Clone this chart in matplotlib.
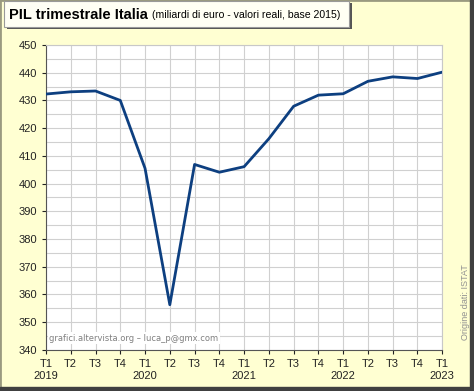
import matplotlib
matplotlib.use("Agg")
import matplotlib.pyplot as plt
from matplotlib.patches import Rectangle

plt.rcParams['font.family'] = ['Liberation Sans', 'DejaVu Sans']

quarters = ["T1", "T2", "T3", "T4"] * 4 + ["T1"]
years = ["2019", "", "", "", "2020", "", "", "", "2021", "", "", "", "2022", "", "", "", "2023"]
pil = [432.3, 433.1, 433.4, 430.0, 405.5, 356.3, 406.9, 404.1, 406.1,
       416.2, 427.9, 431.9, 432.4, 436.9, 438.5, 437.9, 440.2]

bg = "#ffffd2"
fig = plt.figure(figsize=(4.74, 3.91), dpi=100, facecolor=bg)

# frame with shadow on right / bottom
fig.patches.append(Rectangle((0, 0), 1, 1, transform=fig.transFigure,
                             fill=False, edgecolor="#9a9a80", linewidth=2))
fig.patches.append(Rectangle((0.992, 0), 0.008, 1, transform=fig.transFigure,
                             color="#404040", zorder=5))
fig.patches.append(Rectangle((0, 0), 1, 0.01, transform=fig.transFigure,
                             color="#404040", zorder=5))

ax = fig.add_axes([0.097, 0.105, 0.836, 0.78])
ax.set_facecolor("white")
x = range(len(pil))
ax.plot(x, pil, color="#0d3f80", linewidth=2.0, zorder=3)

ax.set_xlim(0, len(pil) - 1)
ax.set_ylim(340, 450)
ax.set_yticks(range(340, 451, 10))
ax.set_yticks(range(345, 450, 10), minor=True)
ax.set_xticks(list(x))
ax.set_xticklabels([q + "\n" + y for q, y in zip(quarters, years)])
ax.tick_params(axis="both", labelsize=8, colors="#222222", length=3)
ax.tick_params(axis="y", which="minor", length=0)
ax.grid(True, which="both", color="#d0d0d0", linewidth=0.8)
for s in ["top", "right"]:
    ax.spines[s].set_color("#c8c8c8")
for s in ["left", "bottom"]:
    ax.spines[s].set_color("#555555")

ax.text(0.008, 0.03, "grafici.altervista.org \u2013 luca_p@gmx.com", transform=ax.transAxes,
        fontsize=6, color="#808080", family=["DejaVu Sans"],
        bbox=dict(facecolor="white", edgecolor="none", pad=1), zorder=4)
fig.text(0.982, 0.13, "Origine dati: ISTAT", rotation=90, fontsize=6.5,
         color="#909090", ha="center", va="bottom")

# title box
fig.patches.append(Rectangle((0.014, 0.925), 0.728, 0.068, transform=fig.transFigure,
                             facecolor="#555555", edgecolor="none", zorder=5))
fig.patches.append(Rectangle((0.008, 0.93), 0.728, 0.068, transform=fig.transFigure,
                             facecolor="#fffff4", edgecolor="#999999", linewidth=0.8, zorder=6))
t = fig.text(0.018, 0.962, "PIL trimestrale Italia", fontsize=10.5, fontweight="bold",
             va="center", zorder=7)
fig.canvas.draw()
bb = t.get_window_extent().transformed(fig.transFigure.inverted())
fig.text(bb.x1 + 0.009, 0.962, "(miliardi di euro - valori reali, base 2015)",
         fontsize=7.6, va="center", zorder=7)

fig.savefig("out.png", dpi=100, facecolor=bg)
